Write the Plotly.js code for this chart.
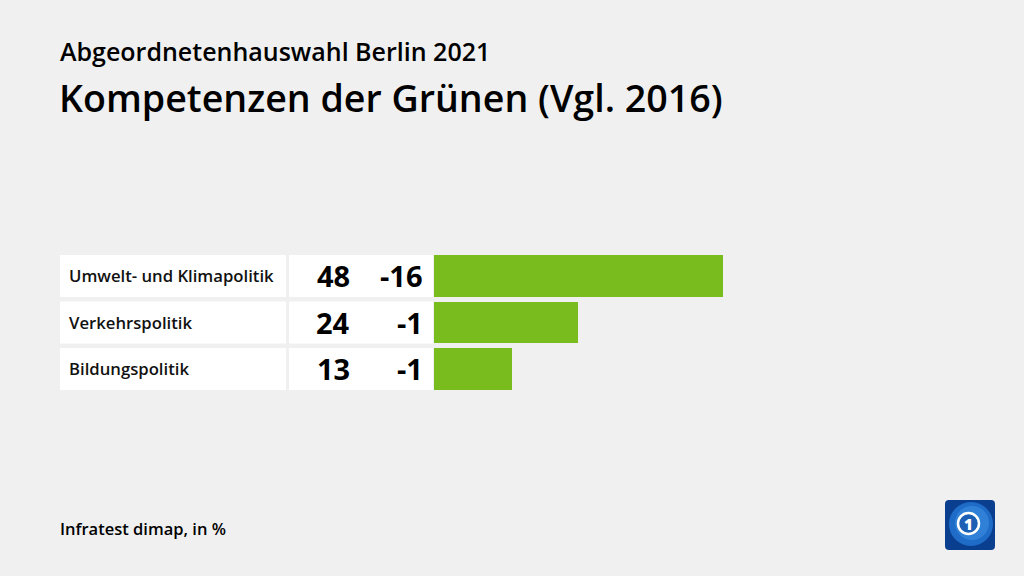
<!DOCTYPE html>
<html>
<head>
<meta charset="utf-8">
<script src="https://cdn.plot.ly/plotly-3.0.1.min.js"></script>
<style>html,body{margin:0;padding:0;background:#f0f0f0;}#chart{width:1024px;height:576px;}</style>
</head>
<body>
<div id="chart"></div>
<script>
const categories = ['Umwelt- und Klimapolitik', 'Verkehrspolitik', 'Bildungspolitik'];
const values = [48, 24, 13];
const changes = ['-16', '-1', '-1'];
const subtitle = 'Abgeordnetenhauswahl Berlin 2021';
const title = 'Kompetenzen der Grünen (Vgl. 2016)';
const source = 'Infratest dimap, in %';

const FONT = 'Open Sans, Noto Sans, sans-serif';
const W = 1024, H = 576;
const px = v => v / W;
const py = v => 1 - v / H;

const trace = {
  type: 'bar',
  orientation: 'h',
  x: values,
  y: categories,
  width: 0.9,
  marker: {color: '#78bc1e'},
  hoverinfo: 'none',
  showlegend: false
};

const shapes = [];
const annotations = [];
categories.forEach((c, i) => {
  shapes.push({type: 'rect', xref: 'paper', yref: 'y', x0: px(60), x1: px(286), y0: i - 0.45, y1: i + 0.45, fillcolor: '#ffffff', line: {width: 0}, layer: 'below'});
  shapes.push({type: 'rect', xref: 'paper', yref: 'y', x0: px(289), x1: px(433), y0: i - 0.45, y1: i + 0.45, fillcolor: '#ffffff', line: {width: 0}, layer: 'below'});
  annotations.push({xref: 'paper', yref: 'y', x: px(67), y: c, xanchor: 'left', yanchor: 'middle', text: c, showarrow: false, font: {family: FONT, size: 16.7, weight: 600, color: '#111111'}});
  annotations.push({xref: 'paper', yref: 'y', x: px(352), y: c, xanchor: 'right', yanchor: 'middle', text: String(values[i]), showarrow: false, font: {family: FONT, size: 29, weight: 700, color: '#000000'}});
  annotations.push({xref: 'paper', yref: 'y', x: px(425), y: c, xanchor: 'right', yanchor: 'middle', text: changes[i], showarrow: false, font: {family: FONT, size: 29, weight: 700, color: '#000000'}});
});

annotations.push({xref: 'paper', yref: 'paper', x: px(58), y: py(70), xanchor: 'left', yanchor: 'bottom', text: subtitle, showarrow: false, font: {family: FONT, size: 25, weight: 600, color: '#000000'}});
annotations.push({xref: 'paper', yref: 'paper', x: px(57), y: py(125), xanchor: 'left', yanchor: 'bottom', text: title, showarrow: false, font: {family: FONT, size: 37.6, weight: 600, color: '#000000'}});
annotations.push({xref: 'paper', yref: 'paper', x: px(58), y: py(542), xanchor: 'left', yanchor: 'bottom', text: source, showarrow: false, font: {family: FONT, size: 16.5, weight: 600, color: '#000000'}});

// logo
const r = 4, L = 945, R = 995, T = 500, B = 550;
const logoPath = `M ${px(L + r)} ${py(T)} L ${px(R - r)} ${py(T)} Q ${px(R)} ${py(T)} ${px(R)} ${py(T + r)} L ${px(R)} ${py(B - r)} Q ${px(R)} ${py(B)} ${px(R - r)} ${py(B)} L ${px(L + r)} ${py(B)} Q ${px(L)} ${py(B)} ${px(L)} ${py(B - r)} L ${px(L)} ${py(T + r)} Q ${px(L)} ${py(T)} ${px(L + r)} ${py(T)} Z`;
shapes.push({type: 'path', xref: 'paper', yref: 'paper', path: logoPath, fillcolor: '#0a3f8f', line: {width: 0}});
shapes.push({type: 'circle', xref: 'paper', yref: 'paper', x0: px(949), x1: px(993), y0: py(546), y1: py(502), fillcolor: '#1f6cc8', line: {width: 0}});
shapes.push({type: 'circle', xref: 'paper', yref: 'paper', x0: px(955), x1: px(989), y0: py(540), y1: py(506), fillcolor: '#3a8ee0', line: {width: 0}, opacity: 0.6});
shapes.push({type: 'circle', xref: 'paper', yref: 'paper', x0: px(958), x1: px(979), y0: py(534), y1: py(513), fillcolor: '#1c5fb5', line: {width: 2.5, color: '#ffffff'}});
annotations.push({xref: 'paper', yref: 'paper', x: px(968.5), y: py(523.5), xanchor: 'center', yanchor: 'middle', text: '1', showarrow: false, font: {family: FONT, size: 15, weight: 800, color: '#ffffff'}});

const layout = {
  width: W, height: H,
  paper_bgcolor: '#f0f0f0',
  plot_bgcolor: 'rgba(0,0,0,0)',
  margin: {l: 0, r: 0, t: 0, b: 0},
  xaxis: {domain: [px(434), px(975.8)], range: [0, 90], showgrid: false, zeroline: false, showticklabels: false, fixedrange: true},
  yaxis: {domain: [py(392.25), py(252.75)], type: 'category', range: [2.5, -0.5], showgrid: false, zeroline: false, showticklabels: false, fixedrange: true},
  bargap: 0,
  shapes: shapes,
  annotations: annotations
};

Plotly.newPlot('chart', [trace], layout, {displayModeBar: false, staticPlot: true});
</script>
</body>
</html>
